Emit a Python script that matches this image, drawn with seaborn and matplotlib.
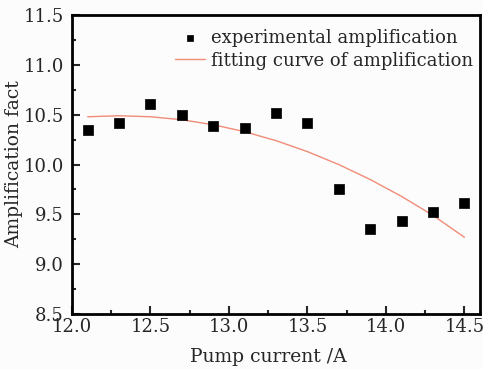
import matplotlib
matplotlib.use("Agg")
import matplotlib.pyplot as plt
from matplotlib.ticker import MultipleLocator
import seaborn as sns
import pandas as pd

# measured points
pump_current = [12.1, 12.3, 12.5, 12.7, 12.9, 13.1, 13.3, 13.5, 13.7, 13.9, 14.1, 14.3, 14.5]
amplification = [10.35, 10.42, 10.61, 10.50, 10.39, 10.37, 10.52, 10.42, 9.75, 9.35, 9.43, 9.52, 9.61]

# fitting curve
fit_current = [12.1, 12.3, 12.5, 12.7, 12.9, 13.1, 13.3, 13.5, 13.7, 13.9, 14.1, 14.3, 14.5]
fit_amplification = [10.48, 10.49, 10.48, 10.45, 10.40, 10.33, 10.24, 10.13, 10.00, 9.85, 9.68, 9.49, 9.27]

sns.set_style("ticks")
plt.rcParams['font.family'] = ['DejaVu Serif']

exp_df = pd.DataFrame({'x': pump_current, 'y': amplification})
fit_df = pd.DataFrame({'x': fit_current, 'y': fit_amplification})

fig = plt.figure(figsize=(4.83, 3.69), dpi=100)
fig.patch.set_facecolor('#fcfcfc')
ax = fig.add_axes([0.149, 0.149, 0.845, 0.810])
ax.set_facecolor('#fcfcfc')

sns.scatterplot(data=exp_df, x='x', y='y', ax=ax, marker='s', s=50, color='black',
                edgecolor='black', linewidth=0.5, label='experimental amplification', zorder=3)
sns.lineplot(data=fit_df, x='x', y='y', ax=ax, color='#f08c78', linewidth=1.0,
             label='fitting curve of amplification', zorder=2)

ax.set_xlim(12.0, 14.6)
ax.set_ylim(8.5, 11.5)
ax.xaxis.set_major_locator(MultipleLocator(0.5))
ax.xaxis.set_minor_locator(MultipleLocator(0.25))
ax.yaxis.set_major_locator(MultipleLocator(0.5))
ax.yaxis.set_minor_locator(MultipleLocator(0.25))
ax.tick_params(which='major', direction='in', length=6, width=1.5, labelsize=13, pad=6,
               top=False, right=False)
ax.tick_params(axis='x', which='major', pad=3)
ax.tick_params(which='minor', direction='in', length=3, width=1.5, top=False, right=False)
for sp in ax.spines.values():
    sp.set_linewidth(2)
    sp.set_color('black')

ax.set_xlabel('Pump current /A', fontsize=13.5)
ax.set_ylabel('Amplification fact', fontsize=13.5)
ax.xaxis.set_label_coords(0.48, -0.115)
ax.yaxis.set_label_coords(-0.12, 0.5)

leg = ax.legend(loc='upper right', bbox_to_anchor=(1.0, 0.977), frameon=False, fontsize=13,
                handlelength=1.7, handletextpad=0.3, labelspacing=0.25, borderaxespad=0.0,
                markerscale=0.6)

fig.savefig('out.png', dpi=100, facecolor=fig.get_facecolor())
